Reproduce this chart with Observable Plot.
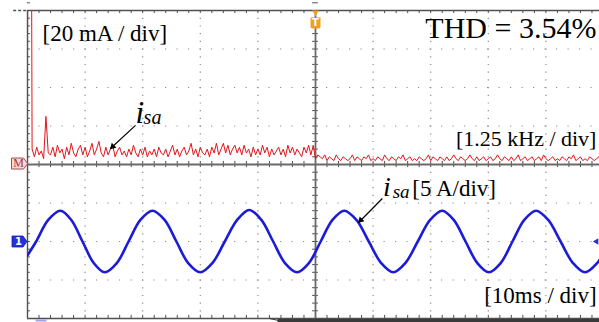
<!DOCTYPE html>
<html><head><meta charset="utf-8">
<script src="https://cdn.jsdelivr.net/npm/d3@7"></script>
<script src="https://cdn.jsdelivr.net/npm/@observablehq/plot@0.6"></script>
<style>
body{margin:0;background:#fff}
#wrap{position:relative;width:599px;height:322px;overflow:hidden;background:#fff}
#wrap svg{position:absolute;left:0;top:0}
</style></head><body><div id="wrap"></div>
<script>
// ---- Data ----
// FFT of i_sa: magnitude (mA) per 50 Hz bin, starting at 0 Hz
const fftBinWidth = 50;
const fftAmp = [
  57, 400, 8, 4, 9, 5, 7, 3, 25, 6,
  5, 9, 4, 10, 6, 8, 3, 9, 5, 11,
  6, 4, 8, 10, 5, 9, 4, 7, 11, 5,
  8, 12, 6, 4, 9, 5, 8, 10, 4, 7,
  9, 5, 7, 4, 8, 5, 10, 6, 4, 8,
  5, 9, 4, 7, 5, 8, 4, 9, 6, 5,
  8, 4, 7, 10, 5, 8, 4, 7, 9, 5,
  7, 11, 5, 8, 4, 9, 6, 5, 8, 4,
  9, 6, 11, 5, 8, 11, 6, 10, 5, 8,
  10, 6, 9, 5, 10, 6, 8, 4, 9, 5,
  8, 5, 10, 6, 9, 4, 8, 5, 7, 9,
  5, 8, 4, 10, 6, 9, 5, 8, 6, 4,
  9, 6, 10, 5, 10, 3, 5, 4, 3, 5,
  2, 4, 3, 2, 5, 3, 2, 4, 3, 2,
  3, 5, 2, 4, 3, 2, 4, 3, 5, 2,
  3, 2, 4, 3, 2, 5, 3, 2, 4, 3,
  2, 4, 3, 5, 2, 3, 4, 2, 3, 2,
  4, 3, 2, 3, 5, 2, 4, 3, 2, 4,
  3, 2, 4, 2, 3, 5, 3, 2, 4, 3,
  2, 3, 5, 3, 2, 4, 2, 3, 4, 2,
  3, 4, 2, 3, 5, 3, 2, 4, 3, 2,
  4, 2, 3, 5, 2, 3, 4, 2, 3, 4,
  2, 3, 4, 2, 5, 3, 2, 3, 4, 2,
  3, 2, 4, 3, 2, 4, 3, 5, 2, 3,
  4, 2, 3, 2, 4, 3, 2, 3, 4, 2
];
// time-domain i_sa: time (ms) and current (A)
const waveTime = [0, 1.5, 3.6, 5.7, 7.6, 9.55, 11.5, 13.4, 15.5, 17.55, 19.6, 21.7, 23.8, 25.85, 27.9, 30.0,
  32.1, 34.25, 36.4, 38.5, 40.6, 42.65, 44.7, 46.8, 48.85, 50.9, 52.95, 55.0, 57.1, 59.25, 61.4, 63.5,
  65.6, 67.75, 69.9, 72.0, 74.0, 76.05, 78.1, 80.1, 82.15, 84.2, 86.25, 88.3, 90.4, 92.55, 94.7, 96.8, 98.9, 100];
const waveCurrent = [-1.8, 0, 2.8, 4.0, 2.8, 0, -2.8, -4.0, -2.8, 0, 2.8, 4.0, 2.8, 0, -2.8, -4.0,
  -2.8, 0, 2.8, 4.1, 2.8, 0, -2.8, -4.0, -2.8, 0, 2.8, 4.0, 2.8, 0, -2.8, -4.0,
  -2.8, 0, 2.8, 4.0, 2.8, 0, -2.8, -4.0, -2.8, 0, 2.8, 4.0, 2.8, 0, -2.8, -4.0, -2.8, -1.5];
// scope scales (per division) and screen labels
const freqPerDiv = 1250, mAPerDiv = 20, msPerDiv = 10, APerDiv = 5;
const labelFftScale = "[20 mA / div]";
const labelThd = "THD = 3.54%";
const labelFreqScale = "[1.25 kHz / div]";
const labelWaveScale = "[5 A/div]";
const labelTimeScale = "[10ms / div]";
const signalName = "i", signalSub = "sa";

// ---- Build tables ----
const fft = fftAmp.map((a, i) => ({f: i * fftBinWidth, a}));
const wave = waveTime.map((t, i) => ({t, i: waveCurrent[i]}));

const W = 599, H = 322;
const serif = "Liberation Serif";
const frameColor = "#505050";
const tag = (w, h, tip) => ({draw(ctx) {
  ctx.moveTo(-w / 2, -h / 2); ctx.lineTo(w / 2 - tip, -h / 2); ctx.lineTo(w / 2, 0);
  ctx.lineTo(w / 2 - tip, h / 2); ctx.lineTo(-w / 2, h / 2); ctx.closePath();
}});
const tBox = {draw(ctx) {
  ctx.moveTo(-5, -5); ctx.lineTo(5, -5); ctx.lineTo(5, 4); ctx.quadraticCurveTo(5, 6, 3, 6);
  ctx.lineTo(-3, 6); ctx.quadraticCurveTo(-5, 6, -5, 4); ctx.closePath();
}};

const fMax = 10 * freqPerDiv, aMax = 4 * mAPerDiv;
const majorF = d3.range(1, 10).map(k => k * freqPerDiv).filter(f => f !== 5 * freqPerDiv);
const majorA = [-3, -2, -1, 1, 2, 3].map(k => k * mAPerDiv);
const minorF = d3.range(0, 50).map(k => k * freqPerDiv / 5);
const minorA = d3.range(-40, 40).map(k => k * mAPerDiv / 5);
const tickF = freqPerDiv / 20, tickA = mAPerDiv / 12.5;

const fftPlot = Plot.plot({
  width: W, height: H,
  marginLeft: 27, marginRight: -4, marginTop: 10, marginBottom: 4,
  style: {background: "none", fontFamily: serif, overflow: "visible"},
  x: {domain: [0, fMax], axis: null},
  y: {domain: [-aMax, aMax], axis: null},
  marks: [
    Plot.gridX(majorF, {stroke: "#8a8a8a", strokeOpacity: 1, strokeWidth: 1.2, strokeDasharray: "1.2,6.5"}),
    Plot.gridY(majorA, {stroke: "#8a8a8a", strokeOpacity: 1, strokeWidth: 1.2, strokeDasharray: "1.2,10.3"}),
    // minor ticks on frame edges and centre lines
    Plot.ruleX(minorF, {y1: () => aMax, y2: () => aMax - tickA, stroke: frameColor}),
    Plot.ruleX(minorF, {y1: () => -aMax, y2: () => -aMax + tickA, stroke: frameColor}),
    Plot.ruleX(minorF, {y1: () => -tickA, y2: () => tickA, stroke: frameColor}),
    Plot.ruleY(minorA, {x1: () => 0, x2: () => tickF, stroke: frameColor}),
    Plot.ruleY(minorA, {x1: () => fMax / 2 - tickF, x2: () => fMax / 2 + tickF, stroke: frameColor}),
    // frame and centre lines
    Plot.ruleX([0], {stroke: frameColor, strokeWidth: 1.4}),
    Plot.ruleX([fMax / 2], {stroke: "#6a6a6a", strokeWidth: 1.8}),
    Plot.ruleY([aMax, -aMax], {stroke: frameColor, strokeWidth: 1.4}),
    Plot.ruleY([0], {stroke: "#6a6a6a", strokeWidth: 1.8}),
    Plot.ruleY([aMax], {x1: () => -300, x2: () => 0, stroke: frameColor, strokeWidth: 1.4, strokeDasharray: "3,2"}),
    // spectrum
    Plot.line(fft, {x: "f", y: "a", stroke: "#e5141b", strokeWidth: 1, clip: true}),
    // labels
    Plot.text([labelFftScale], {x: () => 326, y: () => 64.4, text: d => d, textAnchor: "start", lineAnchor: "bottom", fontSize: 23, fill: "black"}),
    Plot.text([labelThd], {x: () => 12347, y: () => 65.5, text: d => d, textAnchor: "end", lineAnchor: "bottom", fontSize: 30, fill: "black"}),
    Plot.text([labelFreqScale], {x: () => 12347, y: () => 9.4, text: d => d, textAnchor: "end", lineAnchor: "bottom", fontSize: 22, fill: "black"}),
    Plot.text([signalName], {x: () => 2344, y: () => 21.8, text: d => d, textAnchor: "start", lineAnchor: "bottom", fontSize: 31, fontStyle: "italic", fill: "black"}),
    Plot.text([signalSub], {x: () => 2520, y: () => 21.0, text: d => d, textAnchor: "start", lineAnchor: "bottom", fontSize: 20, fontStyle: "italic", fill: "black"}),
    Plot.link([0], {x1: () => 2344, y1: () => 20.3, x2: () => 1801, y2: () => 8.3, stroke: "black", strokeWidth: 1.2}),
    Plot.dot([0], {x: () => 1849, y: () => 9.35, symbol: "triangle2", r: 3.2, rotate: 227, fill: "black"}),
    // scope markers
    Plot.dot([0], {x: () => 0, y: () => 0.5, dx: -8, symbol: tag(16, 11, 4), fill: "#f7dada", stroke: "#b04848", strokeWidth: 1}),
    Plot.text(["M"], {x: () => 0, y: () => 0.5, dx: -9, text: d => d, fontSize: 12, fill: "#a83434", fontFamily: serif}),
    Plot.dot([0], {x: () => fMax / 2, y: () => aMax, dy: 2, symbol: "triangle2", rotate: 180, r: 3.2, fill: "#f0a020"}),
    Plot.dot([0], {x: () => fMax / 2, y: () => aMax, dy: 12, symbol: tBox, fill: "#f0a020"}),
    Plot.text(["T"], {x: () => fMax / 2, y: () => aMax, dy: 12.5, text: d => d, fontSize: 10, fontWeight: "bold", fill: "white", fontFamily: "DejaVu Sans"})
  ]
});

const tMax = 10 * msPerDiv, iMax = 2 * APerDiv;
const wavePlot = Plot.plot({
  width: W, height: H,
  marginLeft: 27, marginRight: -4, marginTop: 164, marginBottom: 4,
  style: {background: "none", fontFamily: serif, overflow: "visible"},
  x: {domain: [0, tMax], axis: null},
  y: {domain: [-iMax, iMax], axis: null},
  marks: [
    Plot.line(wave, {x: "t", y: "i", curve: "catmull-rom", stroke: "#1c1cd8", strokeWidth: 2.6, clip: true}),
    Plot.text([signalName], {x: () => 61.7, y: () => 5.85, text: d => d, textAnchor: "start", lineAnchor: "bottom", fontSize: 28, fontStyle: "italic", fill: "black"}),
    Plot.text([signalSub], {x: () => 63.4, y: () => 5.7, text: d => d, textAnchor: "start", lineAnchor: "bottom", fontSize: 19, fontStyle: "italic", fill: "black"}),
    Plot.text([labelWaveScale], {x: () => 66.8, y: () => 5.85, text: d => d, textAnchor: "start", lineAnchor: "bottom", fontSize: 23, fill: "black"}),
    Plot.text([labelTimeScale], {x: () => 98.8, y: () => -8.05, text: d => d, textAnchor: "end", lineAnchor: "bottom", fontSize: 23, fill: "black"}),
    Plot.link([0], {x1: () => 61.6, y1: () => 5.58, x2: () => 57.5, y2: () => 2.47, stroke: "black", strokeWidth: 1.2}),
    Plot.dot([0], {x: () => 57.85, y: () => 2.75, symbol: "triangle2", r: 3.2, rotate: 225, fill: "black"}),
    // channel markers
    Plot.dot([0], {x: () => 0, y: () => 0, dx: -8, symbol: tag(15, 11, 4), fill: "#2233dd", stroke: "#1a1a9a", strokeWidth: 0.8}),
    Plot.text(["1"], {x: () => 0, y: () => 0, dx: -9, text: d => d, fontSize: 10, fontWeight: "bold", fill: "white", fontFamily: "DejaVu Sans"}),
    Plot.dot([0], {x: () => tMax, y: () => 0, dx: -7, symbol: "triangle2", rotate: -90, r: 3, fill: "#2233dd"}),
    // bottom status bars
    Plot.link([0], {x1: () => 1.4, x2: () => 3.3, y1: () => -10.26, y2: () => -10.26, stroke: "#9fa2ee", strokeWidth: 2}),
    Plot.link([0], {x1: () => 43.4, x2: () => tMax, y1: () => -10.26, y2: () => -10.26, stroke: "#3a3a3a", strokeWidth: 3}),
    Plot.link([0], {x1: () => 42.0, x2: () => 43.6, y1: () => -10.0, y2: () => -10.26, stroke: "#3a3a3a", strokeWidth: 1})
  ]
});

const wrap = document.getElementById("wrap");
wrap.appendChild(fftPlot);
wrap.appendChild(wavePlot);
</script></body></html>
